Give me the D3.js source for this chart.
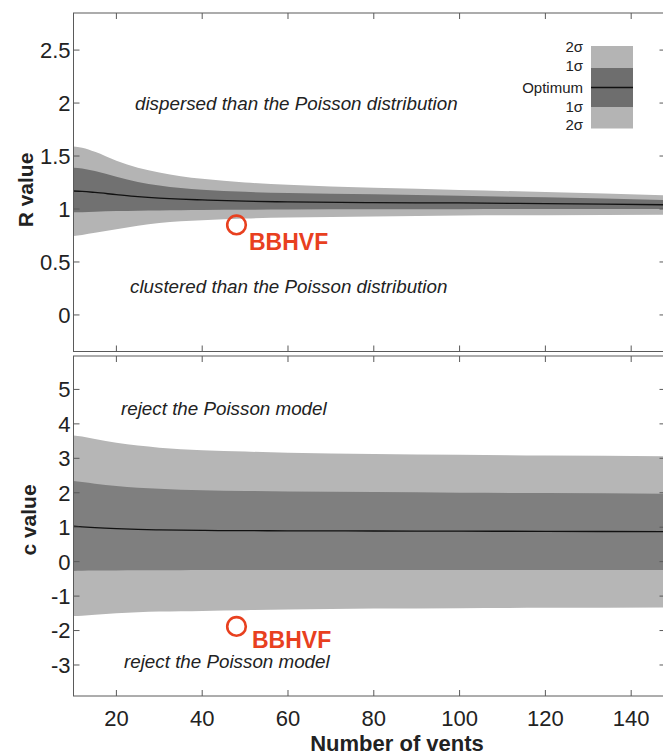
<!DOCTYPE html>
<html>
<head>
<meta charset="utf-8">
<script src="https://cdn.jsdelivr.net/npm/d3@7/dist/d3.min.js"></script>
<style>
  html, body { margin: 0; padding: 0; background: #fff; }
  svg { display: block; }
  text { font-family: "Liberation Sans", Arial, sans-serif; }
</style>
</head>
<body>
<svg id="chart" width="663" height="755"></svg>
<script>
// ---------- data ----------
const vents = [10, 12, 15, 20, 25, 30, 35, 40, 50, 60, 80, 100, 120, 148];

// R value panel
const rUpper2 = [1.59, 1.578, 1.54, 1.455, 1.39, 1.345, 1.31, 1.285, 1.25, 1.228, 1.20, 1.18, 1.16, 1.13];
const rUpper1 = [1.39, 1.382, 1.358, 1.305, 1.255, 1.222, 1.198, 1.182, 1.162, 1.151, 1.14, 1.125, 1.11, 1.085];
const rOpt    = [1.17, 1.166, 1.156, 1.136, 1.117, 1.103, 1.093, 1.086, 1.074, 1.067, 1.06, 1.057, 1.05, 1.04];
const rLower1 = [0.97, 0.97, 0.975, 0.98, 0.984, 0.986, 0.988, 0.99, 0.992, 0.995, 0.997, 0.998, 1.0, 1.0];
const rLower2 = [0.745, 0.755, 0.775, 0.81, 0.843, 0.868, 0.884, 0.895, 0.91, 0.92, 0.93, 0.938, 0.942, 0.945];

// c value panel
const cUpper2 = [3.66, 3.63, 3.56, 3.45, 3.37, 3.31, 3.265, 3.235, 3.195, 3.165, 3.125, 3.10, 3.08, 3.06];
const cUpper1 = [2.34, 2.31, 2.26, 2.195, 2.145, 2.113, 2.09, 2.073, 2.053, 2.04, 2.02, 2.00, 1.99, 1.97];
const cOpt    = [1.03, 1.012, 0.988, 0.958, 0.937, 0.922, 0.913, 0.906, 0.90, 0.895, 0.89, 0.885, 0.88, 0.87];
const cLower1 = [-0.27, -0.265, -0.26, -0.255, -0.25, -0.25, -0.248, -0.245, -0.24, -0.24, -0.24, -0.24, -0.24, -0.24];
const cLower2 = [-1.58, -1.57, -1.54, -1.50, -1.47, -1.45, -1.44, -1.43, -1.41, -1.39, -1.36, -1.35, -1.34, -1.33];

// BBHVF observation
const bbhvfVents = 48;
const bbhvfR = 0.85;
const bbhvfC = -1.88;

const xTicks = [20, 40, 60, 80, 100, 120, 140];
const rTicks = [0, 0.5, 1, 1.5, 2, 2.5];
const rTickLabels = ["0", "0.5", "1", "1.5", "2", "2.5"];
const cTicks = [-3, -2, -1, 0, 1, 2, 3, 4, 5];
const cTickLabels = ["-3", "-2", "-1", "0", "1", "2", "3", "4", "5"];

const legendLabels = ["2σ", "1σ", "Optimum", "1σ", "2σ"];

// ---------- layout ----------
const svg = d3.select("#chart");
const left = 73.5, right = 665.5;
const x = d3.scaleLinear().domain([10, 148]).range([left, right]);

const panels = [
  {
    top: 13, bottom: 351.5, domain: [-0.345, 2.85],
    u2: rUpper2, u1: rUpper1, opt: rOpt, l1: rLower1, l2: rLower2,
    ticks: rTicks, labels: rTickLabels, title: "R value", titlePos: [32.5, 190],
    light: "#b4b4b4", dark: "#717171",
    point: bbhvfR, ptLabel: [249, 250],
    notes: [
      {t: "dispersed than the Poisson distribution", x: 135, y: 110},
      {t: "clustered than the Poisson distribution", x: 130, y: 293}
    ]
  },
  {
    top: 356, bottom: 696, domain: [-3.9, 5.97],
    u2: cUpper2, u1: cUpper1, opt: cOpt, l1: cLower1, l2: cLower2,
    ticks: cTicks, labels: cTickLabels, title: "c value", titlePos: [36, 520],
    light: "#b6b6b6", dark: "#7f7f7f",
    point: bbhvfC, ptLabel: [252, 648],
    notes: [
      {t: "reject the Poisson model", x: 121, y: 415},
      {t: "reject the Poisson model", x: 124, y: 668}
    ]
  }
];

const axisColor = "#5a5a5a";
const textColor = "#222";
const red = "#e8401f";

panels.forEach((p, i) => {
  const y = d3.scaleLinear().domain(p.domain).range([p.bottom, p.top]);
  const clipId = "clip" + i;
  svg.append("clipPath").attr("id", clipId)
    .append("rect").attr("x", left).attr("y", p.top)
    .attr("width", right - left).attr("height", p.bottom - p.top);

  const g = svg.append("g").attr("clip-path", `url(#${clipId})`);
  const rows = vents.map((v, k) => ({v, u2: p.u2[k], u1: p.u1[k], o: p.opt[k], l1: p.l1[k], l2: p.l2[k]}));

  const area = (a, b) => d3.area().curve(d3.curveMonotoneX)
    .x(d => x(d.v)).y0(d => y(d[a])).y1(d => y(d[b]));

  g.append("path").datum(rows).attr("d", area("l2", "u2")).attr("fill", p.light);
  g.append("path").datum(rows).attr("d", area("l1", "u1")).attr("fill", p.dark);
  g.append("path").datum(rows)
    .attr("d", d3.line().curve(d3.curveMonotoneX).x(d => x(d.v)).y(d => y(d.o)))
    .attr("fill", "none").attr("stroke", "#111").attr("stroke-width", 1.3);

  // axes (box with inward ticks)
  const tl = 6;
  const ax = svg.append("g");
  ax.append("rect").attr("x", left).attr("y", p.top)
    .attr("width", right - left).attr("height", p.bottom - p.top)
    .attr("fill", "none").attr("stroke", axisColor).attr("stroke-width", 1);

  xTicks.forEach(t => {
    ax.append("line").attr("x1", x(t)).attr("x2", x(t)).attr("y1", p.bottom).attr("y2", p.bottom - tl)
      .attr("stroke", axisColor);
    ax.append("line").attr("x1", x(t)).attr("x2", x(t)).attr("y1", p.top).attr("y2", p.top + tl)
      .attr("stroke", axisColor);
  });
  p.ticks.forEach((t, k) => {
    ax.append("line").attr("x1", left).attr("x2", left + tl).attr("y1", y(t)).attr("y2", y(t))
      .attr("stroke", axisColor);
    ax.append("line").attr("x1", right).attr("x2", right - tl).attr("y1", y(t)).attr("y2", y(t))
      .attr("stroke", axisColor);
    ax.append("text").attr("x", left - 3).attr("y", y(t)).attr("dy", "0.36em")
      .attr("text-anchor", "end").attr("font-size", 22).attr("fill", textColor)
      .text(p.labels[k]);
  });

  svg.append("text")
    .attr("transform", `translate(${p.titlePos[0]},${p.titlePos[1]}) rotate(-90)`)
    .attr("text-anchor", "middle").attr("font-size", 21).attr("font-weight", "bold")
    .attr("fill", textColor).text(p.title);

  p.notes.forEach(n => {
    svg.append("text").attr("x", n.x).attr("y", n.y)
      .attr("font-size", 18.8).attr("font-style", "italic").attr("fill", textColor).text(n.t);
  });

  // BBHVF marker
  svg.append("circle").attr("cx", x(bbhvfVents)).attr("cy", y(p.point)).attr("r", 9.3)
    .attr("fill", "none").attr("stroke", red).attr("stroke-width", 2.6);
  svg.append("text").attr("x", p.ptLabel[0]).attr("y", p.ptLabel[1])
    .attr("font-size", 23).attr("font-weight", "bold").attr("fill", red).text("BBHVF");
});

// x tick labels (bottom panel only)
xTicks.forEach(t => {
  svg.append("text").attr("x", x(t)).attr("y", 726).attr("text-anchor", "middle")
    .attr("font-size", 22).attr("fill", textColor).text(t);
});
svg.append("text").attr("x", 397).attr("y", 751).attr("text-anchor", "middle")
  .attr("font-size", 22).attr("font-weight", "bold").attr("fill", textColor).text("Number of vents");

// legend
const lg = svg.append("g");
const lx = 591, lw = 42;
const segs = [
  {y0: 46, y1: 68, c: "#b4b4b4"},
  {y0: 68, y1: 107, c: "#6e6e6e"},
  {y0: 107, y1: 128.5, c: "#b4b4b4"}
];
segs.forEach(s => lg.append("rect").attr("x", lx).attr("y", s.y0).attr("width", lw)
  .attr("height", s.y1 - s.y0).attr("fill", s.c));
lg.append("line").attr("x1", lx).attr("x2", lx + lw).attr("y1", 87.5).attr("y2", 87.5)
  .attr("stroke", "#111").attr("stroke-width", 1.3);
const lBase = [51.5, 71, 92.5, 112, 129.5];
legendLabels.forEach((t, k) => {
  lg.append("text").attr("x", 583).attr("y", lBase[k]).attr("text-anchor", "end")
    .attr("font-size", 15).attr("fill", textColor).text(t);
});
</script>
</body>
</html>
